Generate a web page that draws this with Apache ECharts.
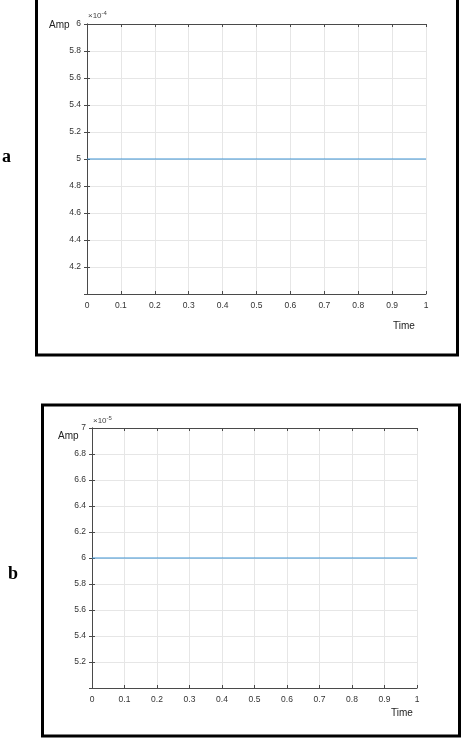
<!DOCTYPE html>
<html>
<head>
<meta charset="utf-8">
<script src="https://cdn.jsdelivr.net/npm/echarts@6/dist/echarts.min.js"></script>
<style>
  html, body { margin: 0; padding: 0; background: #fff; }
  #chart { width: 463px; height: 739px; }
</style>
</head>
<body>
<div id="chart"></div>
<script>
  // panel a : amplitude in units of 1e-4
  const timeA = [0, 1];
  const ampA = [5, 5];
  const yTicksA = { min: 4, max: 6, step: 0.2 };
  const expA = '-4';

  // panel b : amplitude in units of 1e-5
  const timeB = [0, 1];
  const ampB = [6, 6];
  const yTicksB = { min: 5, max: 7, step: 0.2 };
  const expB = '-5';

  const xTicks = { min: 0, max: 1, step: 0.1 };

  const axisCol = '#4a4a4a';
  const labelCol = '#333';
  const gridCol = '#e6e6e6';
  const lineCol = '#3d93d3';

  const chart = echarts.init(document.getElementById('chart'));

  function fmt(v) {
    return String(Number(v.toFixed(1)));
  }

  // one "box" of axes (bottom/top, left/right) per grid
  function xAxes(gi) {
    return [
      {
        gridIndex: gi, type: 'value', position: 'bottom',
        min: xTicks.min, max: xTicks.max, interval: xTicks.step,
        axisLine: { show: true, lineStyle: { color: axisCol, width: 1 } },
        axisTick: { show: true, inside: true, length: 3, lineStyle: { color: axisCol } },
        axisLabel: { color: labelCol, fontSize: 8.5, fontFamily: 'Liberation Sans', margin: 7, formatter: fmt },
        splitLine: { show: true, lineStyle: { color: gridCol, width: 1 } }
      },
      {
        gridIndex: gi, type: 'value', position: 'top',
        min: xTicks.min, max: xTicks.max, interval: xTicks.step,
        axisLine: { show: true, lineStyle: { color: axisCol, width: 1 } },
        axisTick: { show: true, inside: true, length: 3, lineStyle: { color: axisCol } },
        axisLabel: { show: false },
        splitLine: { show: false }
      }
    ];
  }

  function yAxes(gi, t) {
    return [
      {
        gridIndex: gi, type: 'value', position: 'left',
        min: t.min, max: t.max, interval: t.step,
        axisLine: { show: true, lineStyle: { color: axisCol, width: 1 } },
        axisTick: { show: true, inside: true, length: 3, lineStyle: { color: axisCol } },
        axisLabel: {
          color: labelCol, fontSize: 8.5, fontFamily: 'Liberation Sans', margin: 6,
          formatter: v => (Math.abs(v - t.min) < 1e-9 ? '' : fmt(v))
        },
        splitLine: { show: true, lineStyle: { color: gridCol, width: 1 } }
      },
      {
        gridIndex: gi, type: 'value', position: 'right',
        min: t.min, max: t.max, interval: t.step,
        axisLine: { show: true, lineStyle: { color: axisCol, width: 1 } },
        axisTick: { show: true, inside: true, length: 3, lineStyle: { color: axisCol } },
        axisLabel: { show: false },
        splitLine: { show: false }
      }
    ];
  }

  const txt = (x, y, s, size) => ({
    type: 'text', left: x, top: y,
    style: { text: s, fontSize: size, fontFamily: 'Liberation Sans', fill: '#222' }
  });

  const expText = (x, y, e) => ({
    type: 'text', left: x, top: y,
    style: {
      text: '×10{s|' + e + '}', fontSize: 8, fontFamily: 'Liberation Sans', fill: '#444',
      rich: { s: { fontSize: 6, verticalAlign: 'top', padding: [0, 0, 5, 0], fill: '#444' } }
    }
  });

  const option = {
    animation: false,
    backgroundColor: '#fff',
    grid: [
      { left: 87, top: 24, width: 339, height: 270 },
      { left: 92, top: 428, width: 325, height: 260 }
    ],
    xAxis: xAxes(0).concat(xAxes(1)),
    yAxis: yAxes(0, yTicksA).concat(yAxes(1, yTicksB)),
    series: [
      {
        type: 'line', xAxisIndex: 0, yAxisIndex: 0, showSymbol: false,
        lineStyle: { color: lineCol, width: 1 },
        data: timeA.map((t, i) => [t, ampA[i]])
      },
      {
        type: 'line', xAxisIndex: 2, yAxisIndex: 2, showSymbol: false,
        lineStyle: { color: lineCol, width: 1 },
        data: timeB.map((t, i) => [t, ampB[i]])
      }
    ],
    graphic: [
      // outer frames
      { type: 'rect', shape: { x: 36.5, y: -5, width: 421, height: 360 },
        style: { fill: 'none', stroke: '#000', lineWidth: 3 } },
      { type: 'rect', shape: { x: 42.5, y: 405, width: 417, height: 331 },
        style: { fill: 'none', stroke: '#000', lineWidth: 3 } },
      // panel letters
      { type: 'text', left: 2, top: 148,
        style: { text: 'a', fontSize: 18, fontWeight: 'bold', fontFamily: 'Liberation Serif', fill: '#000' } },
      { type: 'text', left: 8, top: 565,
        style: { text: 'b', fontSize: 18, fontWeight: 'bold', fontFamily: 'Liberation Serif', fill: '#000' } },
      // axis names
      txt(49, 20, 'Amp', 10),
      txt(393, 321, 'Time', 10),
      txt(58, 431, 'Amp', 10),
      txt(391, 708, 'Time', 10),
      // exponent labels
      expText(88, 10, expA),
      expText(93, 415, expB)
    ]
  };

  chart.setOption(option);
</script>
</body>
</html>
